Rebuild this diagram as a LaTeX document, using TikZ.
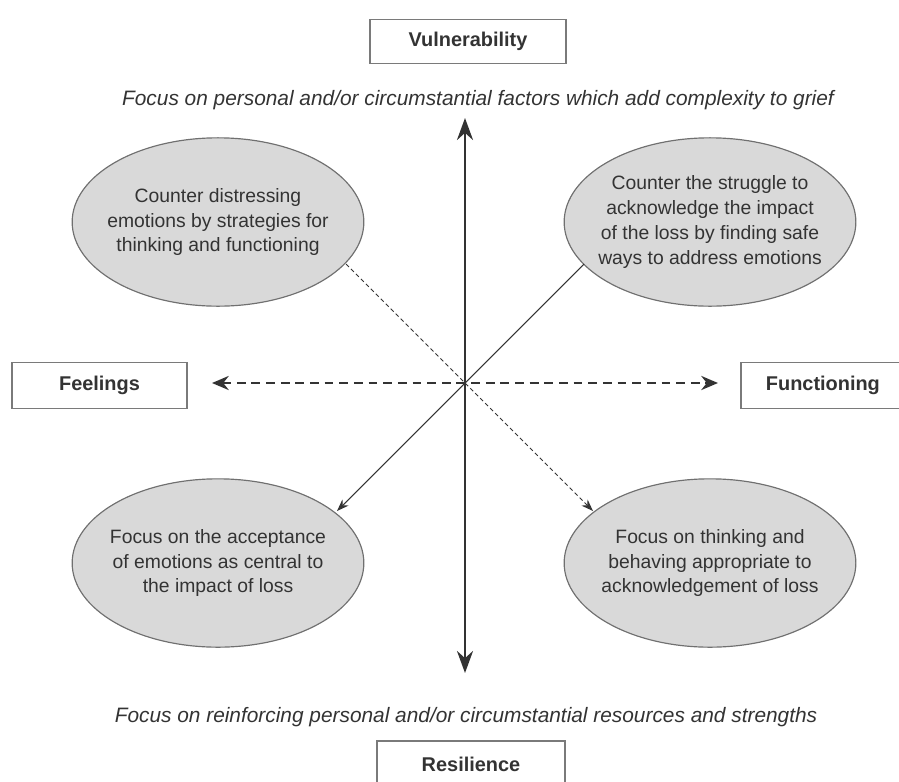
\documentclass[tikz,border=0pt]{standalone}
\usepackage{fontspec}
\setmainfont{Liberation Sans}
\usetikzlibrary{arrows.meta,shapes.geometric}
\definecolor{ink}{HTML}{333333}
\definecolor{rim}{HTML}{707070}
\definecolor{boxrim}{HTML}{7A7A7A}
\definecolor{bubblefill}{HTML}{D9D9D9}
\begin{document}
\begin{tikzpicture}[x=0.03cm,y=-0.03cm,
  pole/.style={draw=boxrim, line width=1.5pt, fill=white, inner sep=0pt,
    minimum height=1.32cm, font=\bfseries\fontsize{17}{20}\selectfont, text=ink},
  bubble/.style={ellipse, draw=rim, line width=1pt, fill=bubblefill,
    inner xsep=-9pt, inner ysep=0pt,
    minimum width=8.75cm, minimum height=5.05cm, align=center,
    font=\fontsize{16.5}{21.3}\selectfont, text=ink},
  note/.style={font=\itshape\fontsize{17.8}{20}\selectfont, text=ink},
  axis/.style={draw=ink, line width=2.4pt, -{Stealth[length=0.66cm,width=0.48cm]}},
  faxis/.style={draw=ink, line width=2.4pt, dash pattern=on 7.5pt off 5pt,
    {Stealth[length=0.5cm,width=0.42cm]}-{Stealth[length=0.5cm,width=0.42cm]}},
  diag/.style={draw=ink, line width=0.9pt, -{Stealth[length=0.36cm,width=0.26cm]}},
]
\useasboundingbox (0,0) rectangle (899,781);
\clip (0,0) rectangle (899,781);

% poles of the two axes
\node[pole, minimum width=5.88cm] (vul) at (468,41.5) {Vulnerability};
\node[pole, minimum width=5.25cm, minimum height=1.38cm] (feel) at (99.5,385.5) {Feelings};
\node[pole, minimum width=4.92cm, minimum height=1.38cm, anchor=west] (func) at (740,385.5) {Functioning};
\node[pole, minimum width=5.64cm, minimum height=1.4cm, anchor=north] (res) at (471,740) {Resilience};

% axis descriptions
\node[note] (top) at (478,100) {Focus on personal and/or circumstantial factors which add complexity to grief};
\node[note] (bot) at (466,717) {Focus on reinforcing personal and/or circumstantial resources and strengths};

% quadrant ellipses
\node[bubble] (tl) at (218,222) {Counter distressing\\emotions by strategies for\\thinking and functioning};
\node[bubble] (tr) at (710,222) {Counter the struggle to\\acknowledge the impact\\of the loss by finding safe\\ways to address emotions};
\node[bubble] (bl) at (218,563) {Focus on the acceptance\\of emotions as central to\\the impact of loss};
\node[bubble] (br) at (710,563) {Focus on thinking and\\behaving appropriate to\\acknowledgement of loss};

% crossing point and end points of the connectors
\coordinate (c) at (465,383);
\coordinate (vtop) at (465,118);
\coordinate (vbot) at (465,673);
\coordinate (hl) at (212,383);
\coordinate (hr) at (718,383);
\coordinate (tlout) at (346,264);
\coordinate (brin) at (593,511);
\coordinate (trout) at (584,264);
\coordinate (blin) at (337,511);

% vertical axis: arrows both ways from the centre
\draw[axis] (c) -- (vtop);
\draw[axis] (c) -- (vbot);
% horizontal axis
\draw[faxis] (hl) -- (hr);
% diagonals
\draw[diag, dash pattern=on 3.5pt off 2.5pt] (tlout) -- (c) -- (brin);
\draw[diag] (trout) -- (c) -- (blin);
\end{tikzpicture}
\end{document}
